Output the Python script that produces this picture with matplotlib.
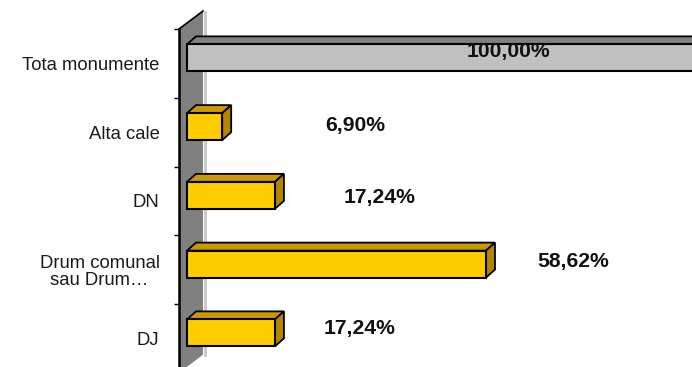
import matplotlib
matplotlib.use("Agg")
import matplotlib.pyplot as plt
from matplotlib.patches import Polygon, Rectangle

# ---- data ----
categories = ["Tota monumente", "Alta cale", "DN", "Drum comunal\nsau Drum…", "DJ"]
values = [100.00, 6.90, 17.24, 58.62, 17.24]
value_labels = ["100,00%", "6,90%", "17,24%", "58,62%", "17,24%"]

# ---- layout / style ----
W, H = 692, 367
fig = plt.figure(figsize=(W / 100, H / 100), dpi=100)
plt.rcParams['font.family'] = ['Liberation Sans', 'DejaVu Sans']

ax_left_px, ax_top_px = 179, 29
band_px = 68.75
px_per_unit = 5.1
n = len(categories)
ax_bottom_px = ax_top_px + band_px * n
ax = fig.add_axes([ax_left_px / W, (H - ax_bottom_px) / H,
                   (W - ax_left_px) / W, (ax_bottom_px - ax_top_px) / H])
x0 = -(187 - ax_left_px) / px_per_unit
ax.set_xlim(x0, (W - ax_left_px) / px_per_unit + x0)
ax.set_ylim(n, 0)

dx = 9 / px_per_unit
dy = -8 / band_px
bar_h = 27 / band_px
bar_shift = -5.5 / band_px

# back wall
wdx = 24 / px_per_unit
wdy = -18 / band_px
wall = Polygon([(x0, 0), (x0 + wdx, wdy), (x0 + wdx, n + wdy), (x0, n)],
               closed=True, facecolor="#808080", edgecolor="none", clip_on=False, zorder=1)
ax.add_patch(wall)
ax.plot([x0 + wdx + 0.3, x0 + wdx + 0.3], [wdy + 0.02, n + wdy], color="#c8c8c8", lw=2,
        clip_on=False, zorder=1)
ax.plot([x0, x0 + wdx], [0, wdy], color="black", lw=1.2, clip_on=False, zorder=2)

front_cols = ["#C0C0C0", "#FFCC00", "#FFCC00", "#FFCC00", "#FFCC00"]
top_cols = ["#808080", "#CC9900", "#CC9900", "#CC9900", "#CC9900"]
side_cols = ["#808080", "#B38600", "#B38600", "#B38600", "#B38600"]

for i, v in enumerate(values):
    yc = i + 0.5 + bar_shift
    y0 = yc - bar_h / 2
    y1 = yc + bar_h / 2
    top = Polygon([(0, y0), (v, y0), (v + dx, y0 + dy), (dx, y0 + dy)], closed=True,
                  facecolor=top_cols[i], edgecolor="black", lw=1.3, zorder=3)
    side = Polygon([(v, y0), (v, y1), (v + dx, y1 + dy), (v + dx, y0 + dy)], closed=True,
                   facecolor=side_cols[i], edgecolor="black", lw=1.3, zorder=3)
    front = Rectangle((0, y0), v, bar_h, facecolor=front_cols[i], edgecolor="black",
                      lw=1.5, zorder=4)
    ax.add_patch(top)
    ax.add_patch(side)
    ax.add_patch(front)

# value labels (positions in data units)
label_x = [63.1, 33.0, 37.7, 75.7, 33.9]
label_dy = [-0.18, -0.10, -0.056, -0.125, -0.15]
for i, t in enumerate(value_labels):
    ax.text(label_x[i], i + 0.5 + label_dy[i], t, ha="center", va="center",
            fontsize=15.2, fontweight="bold", color="#111111", zorder=6)

# axes styling
for s in ["top", "right", "bottom"]:
    ax.spines[s].set_visible(False)
ax.spines["left"].set_linewidth(1.8)
ax.spines["left"].set_zorder(5)
ax.set_xticks([])
ax.set_yticks([i + 0.5 for i in range(n)])
ax.set_yticklabels(categories, fontsize=13.3, color="#1a1a1a", linespacing=1.0)
for lbl in ax.get_yticklabels():
    lbl.set_multialignment("center")
ax.set_yticks(list(range(n + 1)), minor=True)
ax.tick_params(axis="y", which="major", length=0, pad=14)
ax.tick_params(axis="y", which="minor", length=3.5, width=1, color="black", direction="out")
ax.patch.set_alpha(0)

fig.savefig("out.png", dpi=100)
